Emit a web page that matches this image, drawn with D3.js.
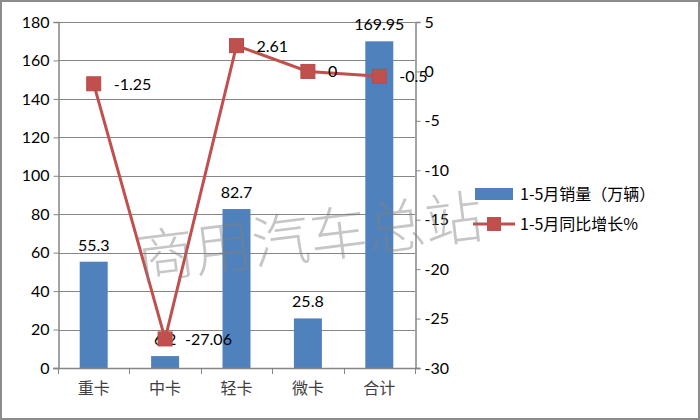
<!DOCTYPE html>
<html><head><meta charset="utf-8">
<script src="https://cdn.jsdelivr.net/npm/d3@7"></script>
<style>body{margin:0;background:#fff}svg{display:block}</style>
</head><body><svg id="c" width="700" height="420"></svg>
<script>
const categories = ["重卡","中卡","轻卡","微卡","合计"];
const sales = [55.3, 6.2, 82.7, 25.8, 169.95];
const growth = [-1.25, -27.06, 2.61, 0, -0.5];
const leftTicks = [0,20,40,60,80,100,120,140,160,180];
const rightTicks = [5,0,-5,-10,-15,-20,-25,-30];
const seriesNames = ["1-5月销量（万辆）","1-5月同比增长%"];
const watermark = "商用汽车总站";

const svg = d3.select("#c");
const W=700,H=420;
const x0=58,x1=415,yT=22,yB=368;
const numFont="Lato, 'Open Sans', sans-serif";
const cjk="'Noto Sans CJK SC', sans-serif";
const fmt=d=>String(d).replace("\u2212","-");

svg.append("rect").attr("x",1).attr("y",1).attr("width",W-2).attr("height",H-2).attr("fill","#fff").attr("stroke","#8c8c8c").attr("stroke-width",2);

const xb=d3.scaleBand().domain(categories).range([x0,x1]);
const yL=d3.scaleLinear().domain([0,180]).range([yB,yT]);
const yR=d3.scaleLinear().domain([-30,5]).range([yB,yT]);

// gridlines
svg.append("g").selectAll("line").data(leftTicks.slice(1)).join("line")
 .attr("x1",x0).attr("x2",x1).attr("y1",d=>Math.round(yL(d))+0.5).attr("y2",d=>Math.round(yL(d))+0.5)
 .attr("stroke","#868686").attr("stroke-width",1);

// bars
svg.append("g").selectAll("rect").data(sales).join("rect")
 .attr("x",(d,i)=>xb(categories[i])+xb.bandwidth()/2-14).attr("width",28)
 .attr("y",d=>yL(d)).attr("height",d=>yB-yL(d)).attr("fill","#4F81BD");

// axes
const axL=svg.append("g").attr("transform",`translate(${x0+0.5},0)`)
 .call(d3.axisLeft(yL).tickValues(leftTicks).tickSize(5).tickPadding(4).tickFormat(d=>String(d)));
const axR=svg.append("g").attr("transform",`translate(${x1+0.5},0)`)
 .call(d3.axisRight(yR).tickValues(rightTicks).tickSize(5).tickPadding(4).tickFormat(d=>String(d)));
const axB=svg.append("g").attr("transform",`translate(0,${yB+0.5})`)
 .call(d3.axisBottom(xb).tickSize(0).tickPadding(14));
[axL,axR].forEach(a=>{a.select(".domain").attr("stroke","#868686").attr("stroke-width",1.5);
 a.selectAll(".tick line").attr("stroke","#868686");
 a.selectAll("text").attr("font-family",numFont).attr("font-size",16).attr("fill","#000");});
axB.select(".domain").attr("stroke","#868686").attr("stroke-width",1.5).attr("d",`M${x0-5},0H${x1+5}`);
axB.selectAll("text").attr("font-family",cjk).attr("font-size",16).attr("fill","#404040");
// category boundary ticks
svg.append("g").selectAll("line").data(categories.concat([null])).join("line")
 .attr("x1",(d,i)=>Math.round(x0+i*xb.bandwidth())+0.5).attr("x2",(d,i)=>Math.round(x0+i*xb.bandwidth())+0.5)
 .attr("y1",yB).attr("y2",yB+6).attr("stroke","#868686");

// bar labels
svg.append("g").selectAll("text").data(sales).join("text")
 .attr("x",(d,i)=>xb(categories[i])+xb.bandwidth()/2).attr("y",d=>yL(d)-11)
 .attr("text-anchor","middle").attr("font-family",numFont).attr("font-size",16).attr("fill","#000")
 .text(d=>d);

// line
const cx=(i)=>xb(categories[i])+xb.bandwidth()/2;
svg.append("path").datum(growth)
 .attr("d",d3.line().x((d,i)=>cx(i)).y(d=>yR(d)))
 .attr("fill","none").attr("stroke","#C0504D").attr("stroke-width",3);
svg.append("g").selectAll("rect").data(growth).join("rect")
 .attr("x",(d,i)=>cx(i)-7).attr("y",d=>yR(d)-7).attr("width",14).attr("height",14)
 .attr("fill","#C0504D").attr("stroke","#B84A47");
svg.append("g").selectAll("text").data(growth).join("text")
 .attr("x",(d,i)=>cx(i)+20).attr("y",d=>yR(d)+6)
 .attr("font-family",numFont).attr("font-size",16).attr("fill","#000")
 .text(d=>fmt(d));

// legend
const lg=svg.append("g");
lg.append("rect").attr("x",475).attr("y",188).attr("width",38).attr("height",12).attr("fill","#4F81BD");
lg.append("text").attr("x",520).attr("y",200).attr("font-family",cjk).attr("font-size",16).attr("fill","#000").text(seriesNames[0]);
lg.append("line").attr("x1",473).attr("x2",515).attr("y1",224).attr("y2",224).attr("stroke","#C0504D").attr("stroke-width",3);
lg.append("rect").attr("x",487).attr("y",217).attr("width",14).attr("height",14).attr("fill","#C0504D");
lg.append("text").attr("x",520).attr("y",230).attr("font-family",cjk).attr("font-size",16).attr("fill","#000").text(seriesNames[1]);

// watermark (on top)
svg.append("text").attr("transform","translate(312,258) rotate(-7)")
 .attr("text-anchor","middle").attr("font-family","'Noto Sans CJK SC',serif").attr("font-weight",300)
 .attr("font-size",58).attr("fill","#808080").attr("fill-opacity",0.45).text(watermark);
</script></body></html>
